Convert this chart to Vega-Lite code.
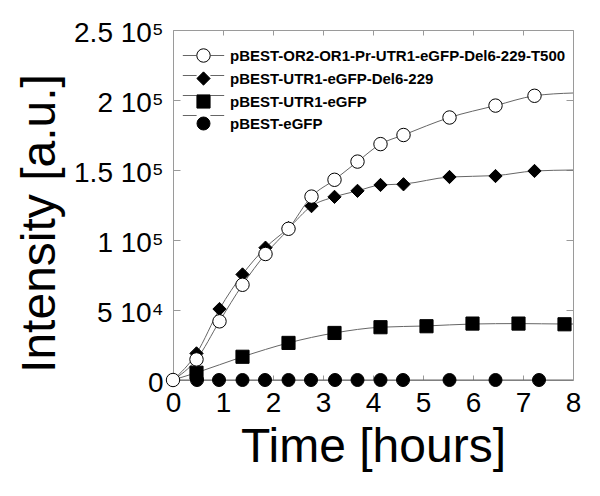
{
  "$schema": "https://vega.github.io/schema/vega-lite/v6.json",
  "width": 400,
  "height": 350,
  "autosize": {"type": "none"},
  "padding": {"left": 173, "top": 30, "right": 27, "bottom": 116},
  "background": "white",
  "config": {
    "font": "Liberation Sans",
    "view": {"stroke": "#9a9a9a", "strokeWidth": 1},
    "axis": {
      "domain": false, "grid": false, "ticks": true, "tickColor": "#9a9a9a", "tickWidth": 1,
      "labelFont": "Liberation Sans", "labelColor": "black",
      "titleFont": "Liberation Sans", "titleColor": "black", "titleFontWeight": "normal"
    },
    "legend": {
      "orient": "none", "legendX": 23, "legendY": 18, "padding": 0,
      "labelFont": "Liberation Sans", "labelFontSize": 15, "labelFontWeight": "bold", "labelColor": "black",
      "labelLimit": 0, "labelOffset": 19, "rowPadding": 4, "symbolStrokeWidth": 1
    }
  },
  "datasets": {
    "points": [
      {"series": "pBEST-eGFP", "t": 0.48, "v": 0},
      {"series": "pBEST-eGFP", "t": 0.92, "v": 0},
      {"series": "pBEST-eGFP", "t": 1.39, "v": 0},
      {"series": "pBEST-eGFP", "t": 1.84, "v": 0},
      {"series": "pBEST-eGFP", "t": 2.31, "v": 0},
      {"series": "pBEST-eGFP", "t": 2.76, "v": 0},
      {"series": "pBEST-eGFP", "t": 3.24, "v": 0},
      {"series": "pBEST-eGFP", "t": 3.69, "v": 0},
      {"series": "pBEST-eGFP", "t": 4.15, "v": 0},
      {"series": "pBEST-eGFP", "t": 4.6, "v": 0},
      {"series": "pBEST-eGFP", "t": 5.53, "v": 0},
      {"series": "pBEST-eGFP", "t": 6.45, "v": 0},
      {"series": "pBEST-eGFP", "t": 7.32, "v": 0},
      {"series": "pBEST-UTR1-eGFP", "t": 0.47, "v": 5200},
      {"series": "pBEST-UTR1-eGFP", "t": 1.39, "v": 16600},
      {"series": "pBEST-UTR1-eGFP", "t": 2.31, "v": 26500},
      {"series": "pBEST-UTR1-eGFP", "t": 3.23, "v": 33600},
      {"series": "pBEST-UTR1-eGFP", "t": 4.15, "v": 37700},
      {"series": "pBEST-UTR1-eGFP", "t": 5.07, "v": 38400},
      {"series": "pBEST-UTR1-eGFP", "t": 5.99, "v": 40300},
      {"series": "pBEST-UTR1-eGFP", "t": 6.91, "v": 40300},
      {"series": "pBEST-UTR1-eGFP", "t": 7.83, "v": 39800},
      {"series": "pBEST-UTR1-eGFP-Del6-229", "t": 0.47, "v": 19000},
      {"series": "pBEST-UTR1-eGFP-Del6-229", "t": 0.93, "v": 50700},
      {"series": "pBEST-UTR1-eGFP-Del6-229", "t": 1.39, "v": 75400},
      {"series": "pBEST-UTR1-eGFP-Del6-229", "t": 1.85, "v": 94500},
      {"series": "pBEST-UTR1-eGFP-Del6-229", "t": 2.31, "v": 108500},
      {"series": "pBEST-UTR1-eGFP-Del6-229", "t": 2.77, "v": 124200},
      {"series": "pBEST-UTR1-eGFP-Del6-229", "t": 3.23, "v": 130800},
      {"series": "pBEST-UTR1-eGFP-Del6-229", "t": 3.69, "v": 135100},
      {"series": "pBEST-UTR1-eGFP-Del6-229", "t": 4.15, "v": 139300},
      {"series": "pBEST-UTR1-eGFP-Del6-229", "t": 4.61, "v": 139800},
      {"series": "pBEST-UTR1-eGFP-Del6-229", "t": 5.53, "v": 145000},
      {"series": "pBEST-UTR1-eGFP-Del6-229", "t": 6.45, "v": 145700},
      {"series": "pBEST-UTR1-eGFP-Del6-229", "t": 7.23, "v": 149300},
      {"series": "pBEST-OR2-OR1-Pr-UTR1-eGFP-Del6-229-T500", "t": 0, "v": 0},
      {"series": "pBEST-OR2-OR1-Pr-UTR1-eGFP-Del6-229-T500", "t": 0.47, "v": 14700},
      {"series": "pBEST-OR2-OR1-Pr-UTR1-eGFP-Del6-229-T500", "t": 0.93, "v": 41900},
      {"series": "pBEST-OR2-OR1-Pr-UTR1-eGFP-Del6-229-T500", "t": 1.39, "v": 68000},
      {"series": "pBEST-OR2-OR1-Pr-UTR1-eGFP-Del6-229-T500", "t": 1.85, "v": 90000},
      {"series": "pBEST-OR2-OR1-Pr-UTR1-eGFP-Del6-229-T500", "t": 2.31, "v": 108000},
      {"series": "pBEST-OR2-OR1-Pr-UTR1-eGFP-Del6-229-T500", "t": 2.77, "v": 131000},
      {"series": "pBEST-OR2-OR1-Pr-UTR1-eGFP-Del6-229-T500", "t": 3.23, "v": 143000},
      {"series": "pBEST-OR2-OR1-Pr-UTR1-eGFP-Del6-229-T500", "t": 3.69, "v": 156000},
      {"series": "pBEST-OR2-OR1-Pr-UTR1-eGFP-Del6-229-T500", "t": 4.15, "v": 168500},
      {"series": "pBEST-OR2-OR1-Pr-UTR1-eGFP-Del6-229-T500", "t": 4.61, "v": 175000},
      {"series": "pBEST-OR2-OR1-Pr-UTR1-eGFP-Del6-229-T500", "t": 5.53, "v": 187500},
      {"series": "pBEST-OR2-OR1-Pr-UTR1-eGFP-Del6-229-T500", "t": 6.45, "v": 196000},
      {"series": "pBEST-OR2-OR1-Pr-UTR1-eGFP-Del6-229-T500", "t": 7.23, "v": 203000}
    ],
    "curves": [
      {"construct": "A", "t": 0, "v": 0},
      {"construct": "A", "t": 0.47, "v": 14700},
      {"construct": "A", "t": 0.93, "v": 41900},
      {"construct": "A", "t": 1.39, "v": 68000},
      {"construct": "A", "t": 1.85, "v": 90000},
      {"construct": "A", "t": 2.31, "v": 108000},
      {"construct": "A", "t": 2.77, "v": 131000},
      {"construct": "A", "t": 3.23, "v": 143000},
      {"construct": "A", "t": 3.69, "v": 156000},
      {"construct": "A", "t": 4.15, "v": 168500},
      {"construct": "A", "t": 4.61, "v": 175000},
      {"construct": "A", "t": 5.53, "v": 187500},
      {"construct": "A", "t": 6.45, "v": 196000},
      {"construct": "A", "t": 7.23, "v": 203000},
      {"construct": "A", "t": 8, "v": 205000},
      {"construct": "B", "t": 0, "v": 0},
      {"construct": "B", "t": 0.47, "v": 19000},
      {"construct": "B", "t": 0.93, "v": 50700},
      {"construct": "B", "t": 1.39, "v": 75400},
      {"construct": "B", "t": 1.85, "v": 94500},
      {"construct": "B", "t": 2.31, "v": 108500},
      {"construct": "B", "t": 2.77, "v": 124200},
      {"construct": "B", "t": 3.23, "v": 130800},
      {"construct": "B", "t": 3.69, "v": 135100},
      {"construct": "B", "t": 4.15, "v": 139300},
      {"construct": "B", "t": 4.61, "v": 140000},
      {"construct": "B", "t": 5.53, "v": 145000},
      {"construct": "B", "t": 6.45, "v": 146000},
      {"construct": "B", "t": 7.23, "v": 149300},
      {"construct": "B", "t": 8, "v": 150000},
      {"construct": "C", "t": 0, "v": 0},
      {"construct": "C", "t": 0.47, "v": 5200},
      {"construct": "C", "t": 1.39, "v": 16600},
      {"construct": "C", "t": 2.31, "v": 26500},
      {"construct": "C", "t": 3.23, "v": 33600},
      {"construct": "C", "t": 4.15, "v": 37700},
      {"construct": "C", "t": 5.07, "v": 38600},
      {"construct": "C", "t": 5.99, "v": 40000},
      {"construct": "C", "t": 6.91, "v": 40300},
      {"construct": "C", "t": 7.83, "v": 40000},
      {"construct": "C", "t": 8, "v": 40000},
      {"construct": "D", "t": 0, "v": 0},
      {"construct": "D", "t": 8, "v": 0}
    ]
  },
  "resolve": {"axis": {"x": "independent", "y": "independent"}},
  "layer": [
    {
      "data": {"name": "curves"},
      "mark": {"type": "line", "interpolate": "monotone", "strokeWidth": 1},
      "encoding": {
        "x": {
          "field": "t", "type": "quantitative",
          "scale": {"domain": [0, 8], "nice": false, "zero": false},
          "axis": {
            "orient": "bottom", "values": [0, 1, 2, 3, 4, 5, 6, 7, 8], "format": "d",
            "tickSize": -5, "labelFontSize": 28, "labelPadding": 36, "labelBaseline": "alphabetic",
            "labelFlush": false, "labelOverlap": false,
            "title": "Time [hours]", "titleFontSize": 48, "titleX": 200, "titleY": 81,
            "titleBaseline": "alphabetic", "titleAlign": "center", "titleAnchor": null
          }
        },
        "y": {
          "field": "v", "type": "quantitative",
          "scale": {"domain": [0, 250000], "nice": false},
          "axis": {
            "orient": "left", "values": [0, 50000, 100000, 150000, 200000, 250000],
            "tickSize": -7, "labelFontSize": 28, "labelPadding": 17, "labelBaseline": "alphabetic",
            "labelOffset": 11, "labelFlush": false, "labelOverlap": false,
            "labelExpr": "datum.value == 0 ? '0' : (datum.value < 100000 ? (datum.value / 10000) + ' 10⁴' : (datum.value / 100000) + ' 10⁵')",
            "title": "Intensity [a.u.]", "titleFontSize": 48, "titleX": -119, "titleY": 193,
            "titleAngle": -90, "titleBaseline": "alphabetic", "titleAlign": "center", "titleAnchor": null
          }
        },
        "color": {
          "field": "construct", "type": "nominal",
          "scale": {"domain": ["A", "B", "C", "D"], "range": ["#666666", "#666666", "#666666", "#666666"]},
          "legend": {"title": null, "symbolType": "M-3,0H-1M1,0H3", "symbolSize": 190, "labelExpr": "''", "symbolStrokeWidth": 1}
        }
      }
    },
    {
      "data": {"name": "points"},
      "mark": {"type": "point", "filled": false, "strokeWidth": 1, "opacity": 1},
      "encoding": {
        "x": {
          "field": "t", "type": "quantitative",
          "scale": {"domain": [0, 8], "nice": false, "zero": false},
          "axis": {"orient": "top", "values": [0, 1, 2, 3, 4, 5, 6, 7, 8], "tickSize": -5, "labels": false, "title": null}
        },
        "y": {
          "field": "v", "type": "quantitative",
          "scale": {"domain": [0, 250000], "nice": false},
          "axis": {"orient": "right", "values": [0, 50000, 100000, 150000, 200000, 250000], "tickSize": -7, "labels": false, "title": null}
        },
        "shape": {
          "field": "series", "type": "nominal",
          "scale": {
            "domain": ["pBEST-OR2-OR1-Pr-UTR1-eGFP-Del6-229-T500", "pBEST-UTR1-eGFP-Del6-229", "pBEST-UTR1-eGFP", "pBEST-eGFP"],
            "range": ["circle", "diamond", "square", "circle"]
          },
          "legend": {"title": null}
        },
        "fill": {
          "field": "series", "type": "nominal",
          "scale": {
            "domain": ["pBEST-OR2-OR1-Pr-UTR1-eGFP-Del6-229-T500", "pBEST-UTR1-eGFP-Del6-229", "pBEST-UTR1-eGFP", "pBEST-eGFP"],
            "range": ["white", "black", "black", "black"]
          },
          "legend": {"title": null}
        },
        "stroke": {
          "field": "series", "type": "nominal",
          "scale": {
            "domain": ["pBEST-OR2-OR1-Pr-UTR1-eGFP-Del6-229-T500", "pBEST-UTR1-eGFP-Del6-229", "pBEST-UTR1-eGFP", "pBEST-eGFP"],
            "range": ["black", "black", "black", "black"]
          },
          "legend": {"title": null}
        },
        "size": {
          "field": "series", "type": "nominal",
          "scale": {
            "domain": ["pBEST-OR2-OR1-Pr-UTR1-eGFP-Del6-229-T500", "pBEST-UTR1-eGFP-Del6-229", "pBEST-UTR1-eGFP", "pBEST-eGFP"],
            "range": [180, 169, 144, 170]
          },
          "legend": {"title": null}
        }
      }
    }
  ]
}
